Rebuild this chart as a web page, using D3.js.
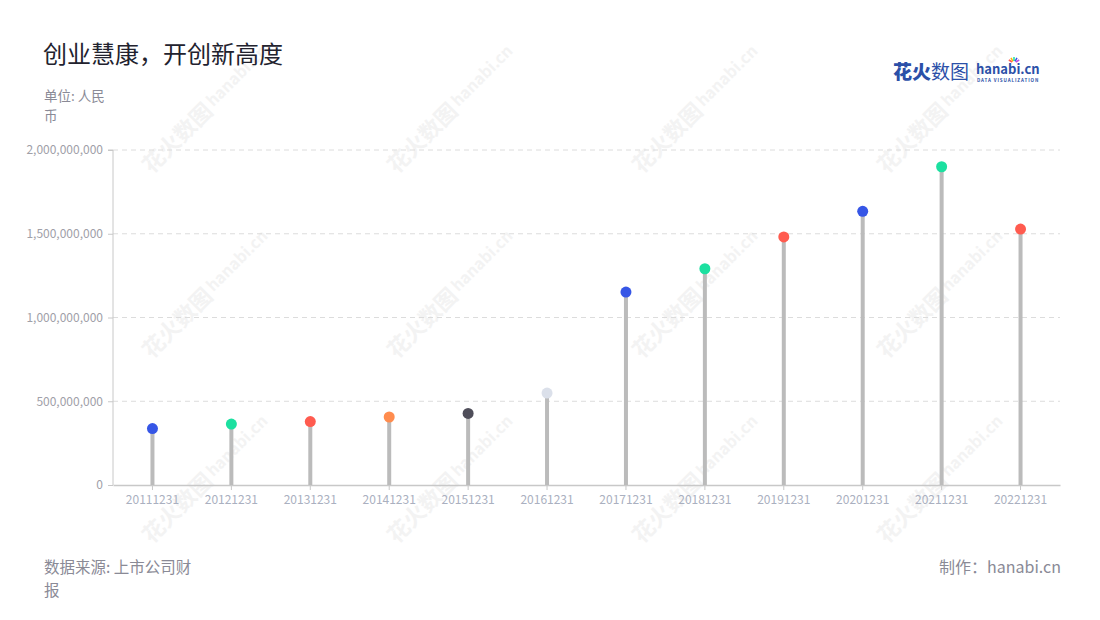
<!DOCTYPE html>
<html><head><meta charset="utf-8">
<script src="https://cdn.jsdelivr.net/npm/d3@7"></script>
<style>body{margin:0;background:#fff;}svg{display:block;font-family:"Noto Sans CJK SC","Noto Sans",sans-serif;}</style>
</head><body><svg id="c" width="1100" height="620"></svg>
<script>
const categories = ["20111231","20121231","20131231","20141231","20151231","20161231","20171231","20181231","20191231","20201231","20211231","20221231"];
const values = [337e6,364e6,379e6,406e6,427e6,549e6,1152e6,1291e6,1481e6,1634e6,1900e6,1528e6];
const dotColors = ["#3656e6","#1ce0a0","#ff5b4f","#ff8c4e","#4f4e5a","#dbe0ea","#3656e6","#1ce0a0","#ff5b4f","#3656e6","#1ce0a0","#ff5b4f"];
const yTicks = [0,500e6,1000e6,1500e6,2000e6];

const svg = d3.select("#c");
const m = {left:113, right:1060, top:150, bottom:485};
const x = d3.scaleBand().domain(categories).range([m.left, m.right]).padding(0);
const y = d3.scaleLinear().domain([0,2e9]).range([m.bottom, m.top]);

// watermarks
const wm = svg.append("g");
[[185,130],[430,130],[675,130],[920,130],[185,315],[430,315],[675,315],[920,315],[185,500],[430,500],[675,500],[920,500]].forEach(([cx,cy])=>{
  const g = wm.append("g").attr("transform",`translate(${cx},${cy}) rotate(-45)`);
  g.append("text").attr("x",-55).attr("y",8).attr("font-size",22).attr("font-weight",700).attr("fill","#f3f3f3").text("花火数图");
  g.append("text").attr("x",36).attr("y",4).attr("font-size",16).attr("font-weight",700).attr("fill","#f3f3f3").text("hanabi.cn");
});

// grid
svg.append("g").selectAll("line").data(yTicks.filter(d=>d>0)).join("line")
  .attr("x1",m.left).attr("x2",m.right).attr("y1",d=>y(d)).attr("y2",d=>y(d))
  .attr("stroke","#dcdcdc").attr("stroke-dasharray","5,4");

// y axis
const ya = svg.append("g").attr("transform",`translate(${m.left},0)`)
  .call(d3.axisLeft(y).tickValues(yTicks).tickFormat(d3.format(",")).tickSize(5).tickPadding(5));
ya.select(".domain").attr("stroke","#c8c8c8").attr("d",`M-5,${m.top}H0V${m.bottom}`);
ya.selectAll(".tick line").attr("stroke","#c8c8c8");
ya.selectAll("text").attr("fill","#a0a0a8").attr("font-size",12).attr("font-family","'Noto Sans CJK SC',sans-serif");

// x axis
const xa = svg.append("g").attr("transform",`translate(0,${m.bottom})`)
  .call(d3.axisBottom(x).tickSize(5).tickPadding(5).tickSizeOuter(0));
xa.select(".domain").attr("stroke","#c8c8c8").attr("stroke-width",1.5);
xa.selectAll(".tick line").attr("stroke","#c8c8c8");
xa.selectAll("text").attr("fill","#aab0c0").attr("font-size",12).attr("font-family","'Noto Sans CJK SC',sans-serif");

// stems
const cx = d=>x(d)+x.bandwidth()/2;
svg.append("g").selectAll("line").data(categories).join("line")
  .attr("x1",cx).attr("x2",cx).attr("y1",m.bottom).attr("y2",(d,i)=>y(values[i]))
  .attr("stroke","#bbbbbb").attr("stroke-width",4);
// dots
svg.append("g").selectAll("circle").data(categories).join("circle")
  .attr("cx",cx).attr("cy",(d,i)=>y(values[i])).attr("r",5.5)
  .attr("fill",(d,i)=>dotColors[i]);

// title
svg.append("text").attr("x",43).attr("y",63).attr("font-size",24).attr("fill","#22222e").text("创业慧康，开创新高度");
svg.append("text").attr("x",44).attr("y",101).attr("font-size",13.5).attr("fill","#8a8a96").text("单位: 人民");
svg.append("text").attr("x",44).attr("y",121).attr("font-size",13.5).attr("fill","#8a8a96").text("币");

// footer
svg.append("text").attr("x",44).attr("y",573).attr("font-size",15.5).attr("fill","#8a8a96").text("数据来源: 上市公司财");
svg.append("text").attr("x",44).attr("y",596).attr("font-size",15.5).attr("fill","#8a8a96").text("报");
svg.append("text").attr("x",1061).attr("y",573).attr("text-anchor","end").attr("font-size",16).attr("fill","#8a8a96").text("制作：hanabi.cn");

// logo
const lg = svg.append("g");
lg.append("text").attr("x",893).attr("y",79).attr("font-size",19).attr("font-weight",900).attr("fill","#2b50a8").text("花火");
lg.append("text").attr("x",931).attr("y",79).attr("font-size",19).attr("fill","#2b50a8").text("数图");
lg.append("text").attr("x",976).attr("y",74).attr("font-size",13).attr("font-weight",700).attr("fill","#2b50a8").text("hanabi.cn");
lg.append("text").attr("x",977).attr("y",82).attr("font-size",4.5).attr("font-weight",700).attr("letter-spacing",0.9).attr("fill","#2b50a8").text("DATA VISUALIZATION");
const sp = ["#ff5b4f","#ffb400","#1ce0a0","#3656e6","#c04fe0"];
sp.forEach((c,i)=>{const a=-150+i*30;lg.append("line").attr("x1",1014+Math.cos(a*Math.PI/180)*2).attr("y1",63+Math.sin(a*Math.PI/180)*2).attr("x2",1014+Math.cos(a*Math.PI/180)*6).attr("y2",63+Math.sin(a*Math.PI/180)*6).attr("stroke",c).attr("stroke-width",1.5);});
</script></body></html>
